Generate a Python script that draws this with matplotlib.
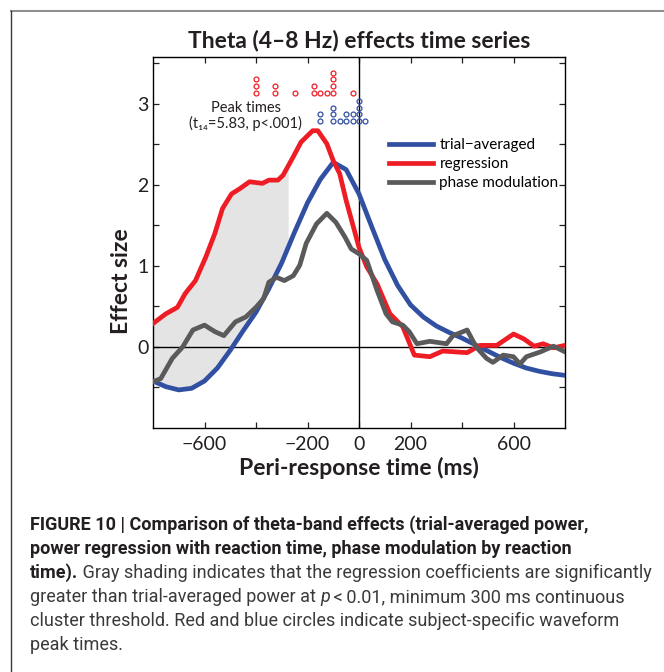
import matplotlib
matplotlib.use("Agg")
import matplotlib.pyplot as plt
from matplotlib.lines import Line2D
import numpy as np

plt.rcParams['font.family'] = ['Lato', 'DejaVu Sans']
plt.rcParams['axes.unicode_minus'] = True

# --- data ---
blue_t = [-800, -750, -700, -650, -600, -550, -500, -450, -400, -350, -300, -250,
          -200, -150, -100, -50, 0, 50, 100, 150, 200, 250, 300, 350, 400, 450,
          500, 550, 600, 650, 700, 750, 800]
blue_y = [-0.42, -0.49, -0.53, -0.51, -0.42, -0.26, -0.04, 0.20, 0.43, 0.72, 1.04, 1.42,
          1.78, 2.07, 2.28, 2.19, 1.89, 1.48, 1.08, 0.76, 0.52, 0.37, 0.26, 0.18, 0.11, 0.03,
          -0.05, -0.13, -0.20, -0.26, -0.30, -0.33, -0.35]

red_t = [-800, -750, -705, -675, -635, -595, -560, -530, -495, -465, -425, -375, -350,
         -315, -295, -255, -225, -180, -160, -125, -100, -75, -50, -25, 0, 30, 70, 120,
         170, 215, 275, 325, 420, 470, 535, 600, 640, 680, 715, 755, 800]
red_y = [0.29, 0.41, 0.49, 0.66, 0.82, 1.11, 1.40, 1.71, 1.89, 1.95, 2.04, 2.02, 2.06,
         2.06, 2.12, 2.35, 2.53, 2.67, 2.67, 2.51, 2.30, 2.14, 1.81, 1.52, 1.23, 0.99, 0.78, 0.41,
         0.25, -0.10, -0.12, -0.05, -0.07, 0.02, 0.02, 0.16, 0.10, 0.01, 0.04, -0.01, 0.02]

gray_t = [-800, -770, -725, -685, -645, -600, -560, -525, -480, -440, -400, -370, -350,
          -320, -290, -255, -230, -205, -165, -125, -90, -55, -30, 0, 30, 70, 105, 130,
          170, 195, 225, 275, 340, 365, 420, 455, 495, 520, 560, 600, 625, 650, 705, 755, 800]
gray_y = [-0.43, -0.39, -0.14, 0.00, 0.21, 0.27, 0.19, 0.14, 0.31, 0.37, 0.49, 0.60, 0.80,
          0.86, 0.82, 0.88, 1.01, 1.28, 1.52, 1.65, 1.54, 1.36, 1.21, 1.15, 1.07, 0.70, 0.41, 0.31,
          0.27, 0.19, 0.04, 0.07, 0.04, 0.14, 0.21, 0.00, -0.14, -0.19, -0.10, -0.12, -0.21, -0.12,
          -0.06, 0.01, -0.06]

# subject-specific peak times (ms)
red_peaks = [-400, -400, -400, -325, -325, -250, -175, -175, -150, -125,
             -100, -100, -100, -100, -25]
blue_peaks = [-150, -150, -100, -100, -100, -75, -50, -50, -25, -25,
              0, 0, 0, 0, 25]

shade_end = -275  # end of significant cluster (ms)

labels = ['trial\u2212averaged', 'regression', 'phase modulation']
xticks = [-600, -400, -200, 0, 200, 400, 600]
xticklabels = ['\u2212600', '', '\u2212200', '0', '200', '', '600']
yticks = [-0.5, 0, 0.5, 1, 1.5, 2, 2.5, 3, 3.5]
yticklabels = ['', '0', '', '1', '', '2', '', '3', '']

BLUE = '#3250a2'
RED = '#ee1d25'
GRAY = '#5a5a5a'
INK = '#231f20'

W, H = 664, 672
fig = plt.figure(figsize=(W / 100, H / 100), dpi=100)
ax = fig.add_axes([153 / W, 1 - 428 / H, 412 / W, 371 / H])

# gray shading between regression and trial-averaged
xs = np.array([t for t in red_t if t < shade_end] + [shade_end])
ax.fill_between(xs, np.interp(xs, red_t, red_y), np.interp(xs, blue_t, blue_y),
                color='#e4e4e4', lw=0, zorder=1)

ax.axhline(0, color='black', lw=1.0, zorder=2)
ax.axvline(0, color='black', lw=1.0, zorder=2)

lw = 3.4
l1, = ax.plot(blue_t, blue_y, color=BLUE, lw=lw, solid_joinstyle='round', zorder=3)
l2, = ax.plot(red_t, red_y, color=RED, lw=lw, solid_joinstyle='round', zorder=4)
l3, = ax.plot(gray_t, gray_y, color=GRAY, lw=lw, solid_joinstyle='round', zorder=5)


def stack_points(peaks, base, step):
    xs, ys, seen = [], [], {}
    for p in peaks:
        k = seen.get(p, 0)
        xs.append(p)
        ys.append(base + k * step)
        seen[p] = k + 1
    return xs, ys


rx, ry = stack_points(red_peaks, 3.14, 0.082)
bx, by = stack_points(blue_peaks, 2.79, 0.082)
ax.plot(rx, ry, 'o', ms=3.5, mfc='none', mec=RED, mew=0.9, zorder=6)
ax.plot(bx, by, 'o', ms=3.5, mfc='none', mec=BLUE, mew=0.9, zorder=6)

ax.text(-440, 2.855, 'Peak times\n(t\u2081\u2084=5.83, p<.001)',
        ha='center', va='center', fontsize=10.5, color=INK, linespacing=1.05,
        multialignment='center')

ax.set_xlim(-800, 800)
ax.set_ylim(-1.0, 3.58)
ax.set_xticks(xticks)
ax.set_xticklabels(xticklabels)
ax.set_yticks(yticks)
ax.set_yticklabels(yticklabels)
ax.tick_params(direction='in', top=True, right=True, length=4, width=0.9,
               labelsize=14, pad=3, colors=INK)
ax.tick_params(axis='x', pad=6)
for s in ax.spines.values():
    s.set_linewidth(1.0)

ax.set_title('Theta (4\u20138 Hz) effects time series', fontsize=16.5, fontweight='bold',
             color=INK, pad=7)
ax.set_xlabel('Peri-response time (ms)', fontsize=16.5, fontweight='bold', color=INK)
ax.xaxis.set_label_coords(0.5, -0.078)
ax.set_ylabel('Effect size', fontsize=16.5, fontweight='bold', color=INK)
ax.yaxis.set_label_coords(-0.05, 0.396)

ax.legend([l1, l2, l3], labels, loc='upper left', bbox_to_anchor=(0.573, 0.782),
          frameon=False, fontsize=11, handlelength=2.9, handletextpad=0.4,
          labelspacing=0.33, borderpad=0, borderaxespad=0)

# page frame lines
fig.add_artist(Line2D([11 / W, 1], [1 - 11 / H, 1 - 11 / H], color='#8f8f8f', lw=1.5))
fig.add_artist(Line2D([11 / W, 11 / W], [1 - 11 / H, 0], color='#3a3a3a', lw=1.0))

# caption, drawn segment by segment
cap_family = ['Liberation Sans Narrow', 'Roboto', 'DejaVu Sans']
cap_size = 13
caption = [
    [('FIGURE 10 | Comparison of theta-band effects (trial-averaged power,', 'bold', 'normal')],
    [('power regression with reaction time, phase modulation by reaction', 'bold', 'normal')],
    [('time).', 'bold', 'normal'),
     (' Gray shading indicates that the regression coefficients are significantly', 'normal', 'normal')],
    [('greater than trial-averaged power at ', 'normal', 'normal'), ('p', 'normal', 'italic'),
     ('\u2009<\u20090.01, minimum 300 ms continuous', 'normal', 'normal')],
    [('cluster threshold. Red and blue circles indicate subject-specific waveform', 'normal', 'normal')],
    [('peak times.', 'normal', 'normal')],
]
baselines = [530, 554, 578, 602, 626, 650]

renderer = fig.canvas.get_renderer()
for segs, yb in zip(caption, baselines):
    x = 30 / W
    for txt, weight, style in segs:
        t = fig.text(x, 1 - yb / H, txt, fontsize=cap_size, fontweight=weight, fontstyle=style,
                     family=cap_family, color=INK if weight == 'bold' else '#3a3a3a',
                     ha='left', va='baseline')
        bb = t.get_window_extent(renderer)
        x += bb.width / W

fig.savefig('out.png', dpi=100)
